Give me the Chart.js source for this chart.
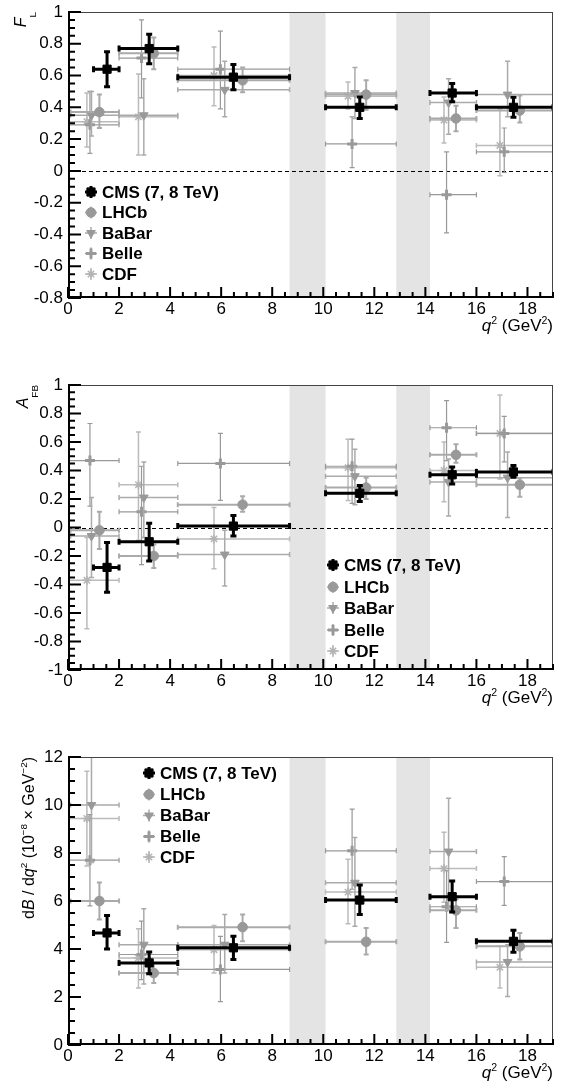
<!DOCTYPE html>
<html>
<head>
<meta charset="utf-8">
<script src="https://cdn.jsdelivr.net/npm/chart.js@4.4.1/dist/chart.umd.min.js"></script>
<style>
  html, body { margin: 0; padding: 0; background: #fff; }
  canvas { display: block; }
</style>
</head>
<body>
<canvas id="flChart" width="563" height="373"></canvas>
<canvas id="afbChart" width="563" height="372"></canvas>
<canvas id="dbChart" width="563" height="343"></canvas>
<script>
// q^2 bins (GeV^2)
const binHigh = [2, 4.3, 8.68, 12.86, 16, 19];
const cmsLow = [1, 2, 4.3, 10.09, 14.18, 16];
const lhcbLow = [0.1, 2, 4.3, 10.09, 14.18, 16];
const babarLow = [0.1, 2, 4.3, 10.09, 14.18, 16];
const belleLow = [0, 2, 4.3, 10.09, 14.18, 16];
const cdfLow = [0, 2, 4.3, 10.09, 14.18, 16];

// where the markers sit inside each bin
const cmsQ = [1.53, 3.18, 6.48, 11.43, 15.05, 17.45];
const lhcbQ = [1.23, 3.36, 6.84, 11.68, 15.2, 17.7];
const babarQ = [0.92, 2.97, 6.14, 11.24, 14.91, 17.22];
const belleQ = [0.86, 2.88, 5.97, 11.13, 14.83, 17.09];
const cdfQ = [0.74, 2.76, 5.72, 10.97, 14.73, 16.92];

// J/psi and psi' vetoed regions
const vetoBands = [[8.68, 10.09], [12.86, 14.18]];

const legendLabels = ['CMS (7, 8 TeV)', 'LHCb', 'BaBar', 'Belle', 'CDF'];

// F_L values, errors as [up, down]
const cmsFL = [0.64, 0.77, 0.59, 0.40, 0.49, 0.40];
const cmsFLErr = [[0.11, 0.11], [0.09, 0.095], [0.08, 0.08], [0.065, 0.07], [0.06, 0.055], [0.063, 0.063]];
const lhcbFL = [0.37, 0.74, 0.57, 0.48, 0.33, 0.38];
const lhcbFLErr = [[0.11, 0.10], [0.10, 0.10], [0.08, 0.075], [0.09, 0.095], [0.08, 0.08], [0.095, 0.075]];
const babarFL = [0.35, 0.35, 0.51, 0.49, 0.43, 0.48];
const babarFLErr = [[0.15, 0.13], [0.23, 0.25], [0.18, 0.17], [0.16, 0.16], [0.15, 0.20], [0.21, 0.14]];
const belleFL = [0.29, 0.71, 0.64, 0.17, -0.15, 0.12];
const belleFLErr = [[0.21, 0.18], [0.24, 0.25], [0.24, 0.25], [0.17, 0.15], [0.27, 0.24], [0.15, 0.13]];
const cdfFL = [0.31, 0.34, 0.60, 0.47, 0.32, 0.16];
const cdfFLErr = [[0.18, 0.16], [0.27, 0.24], [0.18, 0.19], [0.09, 0.08], [0.145, 0.145], [0.23, 0.19]];

// A_FB
const cmsAFB = [-0.28, -0.10, 0.01, 0.24, 0.37, 0.39];
const cmsAFBErr = [[0.175, 0.175], [0.13, 0.135], [0.075, 0.07], [0.055, 0.058], [0.055, 0.065], [0.045, 0.037]];
const lhcbAFB = [-0.02, -0.20, 0.16, 0.28, 0.51, 0.30];
const lhcbAFBErr = [[0.13, 0.13], [0.08, 0.085], [0.06, 0.05], [0.07, 0.08], [0.075, 0.055], [0.045, 0.085]];
const babarAFB = [-0.06, 0.21, -0.19, 0.36, 0.32, 0.35];
const babarAFBErr = [[0.27, 0.29], [0.25, 0.28], [0.17, 0.22], [0.19, 0.20], [0.16, 0.24], [0.18, 0.28]];
const belleAFB = [0.47, 0.11, 0.45, 0.43, 0.70, 0.66];
const belleAFBErr = [[0.26, 0.32], [0.32, 0.37], [0.21, 0.26], [0.19, 0.26], [0.19, 0.23], [0.12, 0.20]];
const cdfAFB = [-0.37, 0.30, -0.08, 0.42, 0.40, 0.66];
const cdfAFBErr = [[0.30, 0.34], [0.37, 0.39], [0.22, 0.21], [0.20, 0.23], [0.20, 0.22], [0.27, 0.32]];

// dB/dq^2 (10^-8 GeV^-2)
const cmsDB = [4.67, 3.42, 4.05, 6.04, 6.18, 4.32];
const cmsDBErr = [[0.73, 0.67], [0.46, 0.45], [0.48, 0.49], [0.63, 0.6], [0.65, 0.64], [0.46, 0.46]];
const lhcbDB = [6.0, 3.0, 4.91, 4.30, 5.61, 4.11];
const lhcbDBErr = [[0.77, 0.77], [0.42, 0.42], [0.53, 0.59], [0.58, 0.53], [0.46, 0.73], [0.56, 0.55]];
const babarDB = [10.0, 4.18, 4.18, 6.76, 8.06, 3.46];
const babarDBErr = [[2.2, 2.4], [1.5, 1.64], [1.26, 1.18], [1.89, 1.81], [2.22, 2.41], [0.72, 1.44]];
const belleDB = [7.7, 3.77, 3.15, 8.09, 5.76, 6.81];
const belleDBErr = [[1.9, 1.9], [1.39, 1.05], [1.38, 1.34], [1.74, 1.6], [1.5, 1.48], [1.04, 0.99]];
const cdfDB = [9.44, 3.63, 3.97, 6.37, 7.35, 3.24];
const cdfDBErr = [[1.97, 1.98], [1.21, 1.26], [1.01, 0.97], [1.37, 1.32], [1.51, 1.4], [0.87, 0.87]];

const FONT = "'Liberation Sans', Arial, Helvetica, sans-serif";

// marker / error bar look for each experiment (CMS first so it's drawn on top)
const experiments = [
    { q: cmsQ, low: cmsLow, point: 'rect', radius: 5.8, color: '#000', bw: 1, bar: '#000', barWidth: 3, cap: 3 },
    { q: lhcbQ, low: lhcbLow, point: 'circle', radius: 4.8, color: '#999', bw: 1, bar: '#aaa', barWidth: 2, cap: 2.5 },
    { q: babarQ, low: babarLow, point: 'triangle', rotation: 180, radius: 5, color: '#999', bw: 1, bar: '#aaa', barWidth: 1.5, cap: 2.5 },
    { q: belleQ, low: belleLow, point: 'cross', radius: 5, color: '#999', bw: 3, bar: '#999', barWidth: 1.2, cap: 2.5 },
    { q: cdfQ, low: cdfLow, point: 'star', radius: 4.5, color: '#b4b4b4', bw: 1.5, bar: '#bbb', barWidth: 1.5, cap: 2.5 },
];

document.addEventListener('DOMContentLoaded', function () {
    initCharts();
});

function initCharts() {
    createChart('flChart', {
        values: [cmsFL, lhcbFL, babarFL, belleFL, cdfFL],
        errors: [cmsFLErr, lhcbFLErr, babarFLErr, belleFLErr, cdfFLErr],
        yMin: -0.8, yMax: 1, yStep: 0.2, yMinor: 0.05,
        xAxisH: 75, zeroLine: true,
        yTitle: [{ t: 'F', i: true }, { t: 'L', sub: true }], yTitleX: 26, yTitleSize: 16,
        legendX: 91, legendRows: [192, 212.5, 233, 253.5, 274],
    });

    createChart('afbChart', {
        values: [cmsAFB, lhcbAFB, babarAFB, belleAFB, cdfAFB],
        errors: [cmsAFBErr, lhcbAFBErr, babarAFBErr, belleAFBErr, cdfAFBErr],
        yMin: -1, yMax: 1, yStep: 0.2, yMinor: 0.05,
        xAxisH: 75, zeroLine: true,
        yTitle: [{ t: 'A', i: true }, { t: 'FB', sub: true }], yTitleX: 28, yTitleSize: 16,
        legendX: 333, legendRows: [192, 214, 235, 257, 278],
    });

    createChart('dbChart', {
        values: [cmsDB, lhcbDB, babarDB, belleDB, cdfDB],
        errors: [cmsDBErr, lhcbDBErr, babarDBErr, belleDBErr, cdfDBErr],
        yMin: 0, yMax: 12, yStep: 2, yMinor: 0.5,
        xAxisH: 43, zeroLine: false,
        yTitle: [{ t: 'd' }, { t: 'B', i: true }, { t: ' / d' }, { t: 'q', i: true }, { t: '2', sup: true },
                 { t: ' (10' }, { t: '\u22128', sup: true }, { t: ' \u00d7 GeV' }, { t: '\u22122', sup: true }, { t: ')' }],
        yTitleX: 34, yTitleSize: 16,
        legendX: 149, legendRows: [28, 49.5, 70.5, 91.5, 112],
    });
}

function makeDatasets(values, errors) {
    return experiments.map(function (ex, k) {
        return {
            label: legendLabels[k],
            data: ex.q.map(function (q, i) {
                const v = values[k][i];
                return { x: q, y: v, xLo: ex.low[i], xHi: binHigh[i], yHi: v + errors[k][i][0], yLo: v - errors[k][i][1] };
            }),
            pointStyle: ex.point,
            pointRadius: ex.radius,
            pointHoverRadius: ex.radius,
            pointRotation: ex.rotation || 0,
            pointBackgroundColor: ex.color,
            pointBorderColor: ex.color,
            pointBorderWidth: ex.bw,
            barColor: ex.bar,
            barWidth: ex.barWidth,
            capSize: ex.cap,
        };
    });
}

// draws text made of pieces: italic, superscript, subscript
function drawRich(ctx, segs, x, y, size, align) {
    const parts = segs.map(function (s) {
        const small = s.sup || s.sub;
        const fs = small ? size * 0.62 : size;
        const font = (s.i ? 'italic ' : '') + fs + 'px ' + FONT;
        ctx.font = font;
        const dy = s.sup ? -size * 0.42 : (s.sub ? size * 0.62 : 0);
        return { t: s.t, font: font, w: ctx.measureText(s.t).width, dy: dy };
    });
    const total = parts.reduce(function (a, p) { return a + p.w; }, 0);
    let cx = align === 'right' ? x - total : x;
    parts.forEach(function (p) {
        ctx.font = p.font;
        ctx.fillText(p.t, cx, y + p.dy);
        cx += p.w;
    });
}

const errorBars = {
    id: 'errorBars',
    beforeDatasetDraw(chart, args) {
        const ds = chart.data.datasets[args.index];
        const xs = chart.scales.x, ys = chart.scales.y;
        const ctx = chart.ctx, a = chart.chartArea;
        ctx.save();
        ctx.beginPath();
        ctx.rect(a.left, a.top, a.right - a.left, a.bottom - a.top);
        ctx.clip();
        ctx.strokeStyle = ds.barColor;
        ctx.lineWidth = ds.barWidth;
        const c = ds.capSize;
        ds.data.forEach(function (p) {
            const px = xs.getPixelForValue(p.x), py = ys.getPixelForValue(p.y);
            const x0 = xs.getPixelForValue(p.xLo), x1 = xs.getPixelForValue(p.xHi);
            const y0 = ys.getPixelForValue(p.yHi), y1 = ys.getPixelForValue(p.yLo);
            ctx.beginPath();
            ctx.moveTo(x0, py); ctx.lineTo(x1, py);
            ctx.moveTo(px, y0); ctx.lineTo(px, y1);
            ctx.moveTo(x0, py - c); ctx.lineTo(x0, py + c);
            ctx.moveTo(x1, py - c); ctx.lineTo(x1, py + c);
            ctx.moveTo(px - c, y0); ctx.lineTo(px + c, y0);
            ctx.moveTo(px - c, y1); ctx.lineTo(px + c, y1);
            ctx.stroke();
        });
        ctx.restore();
    }
};

function panelPlugins(p) {
    const background = {
        id: 'background',
        beforeDatasetsDraw(chart) {
            const ctx = chart.ctx, a = chart.chartArea, xs = chart.scales.x, ys = chart.scales.y;
            ctx.save();
            ctx.fillStyle = '#e4e4e4';
            vetoBands.forEach(function (b) {
                const x0 = xs.getPixelForValue(b[0]), x1 = xs.getPixelForValue(b[1]);
                ctx.fillRect(x0, a.top, x1 - x0, a.bottom - a.top);
            });
            if (p.zeroLine) {
                const y0 = Math.round(ys.getPixelForValue(0)) + 0.5;
                ctx.strokeStyle = '#000';
                ctx.lineWidth = 1.2;
                ctx.setLineDash([4, 3]);
                ctx.beginPath();
                ctx.moveTo(a.left, y0); ctx.lineTo(a.right, y0);
                ctx.stroke();
            }
            ctx.restore();
        }
    };

    const frame = {
        id: 'frame',
        afterDatasetsDraw(chart) {
            const ctx = chart.ctx, a = chart.chartArea, xs = chart.scales.x, ys = chart.scales.y;
            ctx.save();
            ctx.strokeStyle = '#444';
            ctx.lineWidth = 1;
            ctx.beginPath();
            ctx.moveTo(a.left, a.top + 0.5); ctx.lineTo(a.right, a.top + 0.5);
            ctx.moveTo(a.right - 0.5, a.top); ctx.lineTo(a.right - 0.5, a.bottom);
            ctx.stroke();

            ctx.strokeStyle = '#000';
            ctx.lineWidth = 2;
            ctx.beginPath();
            ctx.moveTo(a.left + 1, a.top); ctx.lineTo(a.left + 1, a.bottom);
            ctx.moveTo(a.left, a.bottom - 1); ctx.lineTo(a.right, a.bottom - 1);
            // inward ticks, 4 minor divisions per major
            const ny = Math.round((p.yMax - p.yMin) / p.yMinor);
            for (let i = 0; i <= ny; i++) {
                const y = ys.getPixelForValue(p.yMin + i * p.yMinor);
                const len = i % 4 === 0 ? 13 : 7;
                ctx.moveTo(a.left, y); ctx.lineTo(a.left + len, y);
            }
            const nx = Math.round(19 / 0.5);
            for (let i = 0; i <= nx; i++) {
                const x = xs.getPixelForValue(i * 0.5);
                const len = i % 4 === 0 ? 11 : 6;
                ctx.moveTo(x, a.bottom); ctx.lineTo(x, a.bottom - len);
            }
            ctx.stroke();
            ctx.restore();
        }
    };

    const labels = {
        id: 'labels',
        afterDraw(chart) {
            const ctx = chart.ctx, a = chart.chartArea;
            ctx.save();
            ctx.fillStyle = '#000';
            ctx.textBaseline = 'alphabetic';

            // x title, right aligned under the axis
            drawRich(ctx, [{ t: 'q', i: true }, { t: '2', sup: true }, { t: ' (GeV' }, { t: '2', sup: true }, { t: ')' }],
                a.right, a.bottom + 33, 17, 'right');

            // y title, rotated, ending at the top of the axis
            ctx.save();
            ctx.translate(p.yTitleX, a.top);
            ctx.rotate(-Math.PI / 2);
            drawRich(ctx, p.yTitle, 0, 0, p.yTitleSize, 'right');
            ctx.restore();

            // legend
            ctx.textBaseline = 'middle';
            ctx.font = 'bold 17px ' + FONT;
            experiments.forEach(function (ex, k) {
                const x = p.legendX, y = p.legendRows[k];
                ctx.strokeStyle = ex.bar;
                ctx.lineWidth = k === 0 ? 3 : 1.5;
                ctx.beginPath();
                ctx.moveTo(x - 6, y); ctx.lineTo(x + 6, y);
                ctx.moveTo(x, y - 6); ctx.lineTo(x, y + 6);
                ctx.stroke();
                ctx.fillStyle = ex.color;
                ctx.strokeStyle = ex.color;
                ctx.lineWidth = ex.bw;
                Chart.helpers.drawPoint(ctx, { pointStyle: ex.point, radius: ex.radius, rotation: ex.rotation || 0, borderWidth: ex.bw }, x, y);
                ctx.fillStyle = '#000';
                ctx.fillText(legendLabels[k], x + 11, y + 1);
            });
            ctx.restore();
        }
    };

    return [background, errorBars, frame, labels];
}

function createChart(id, p) {
    const ctx = document.getElementById(id);
    if (!ctx) {
        console.error(`Canvas element with id '${id}' not found`);
        return;
    }

    const tickFont = { family: FONT, size: 17 };

    ctx.chart = new Chart(ctx, {
        type: 'scatter',
        data: { datasets: makeDatasets(p.values, p.errors) },
        options: {
            responsive: false,
            animation: false,
            events: [],
            layout: { padding: { left: 0, right: 10, top: 12, bottom: 0 } },
            plugins: { legend: { display: false }, tooltip: { enabled: false } },
            scales: {
                x: {
                    type: 'linear', min: 0, max: 19,
                    grid: { display: false, drawTicks: false },
                    border: { display: false },
                    ticks: {
                        stepSize: 2, includeBounds: false, padding: 1, color: '#000', font: tickFont,
                        maxRotation: 0, autoSkip: false,
                        callback: function (v) { return String(Math.round(v)); }
                    },
                    afterFit: function (s) { s.height = p.xAxisH; s.paddingLeft = 0; s.paddingRight = 0; }
                },
                y: {
                    type: 'linear', min: p.yMin, max: p.yMax,
                    grid: { display: false, drawTicks: false },
                    border: { display: false },
                    ticks: {
                        stepSize: p.yStep, includeBounds: false, padding: 5, color: '#000', font: tickFont,
                        autoSkip: false,
                        callback: function (v) { return String(Number(v.toFixed(2))); }
                    },
                    afterFit: function (s) { s.width = 68; s.paddingTop = 0; s.paddingBottom = 0; }
                }
            }
        },
        plugins: panelPlugins(p)
    });
}
</script>
</body>
</html>
